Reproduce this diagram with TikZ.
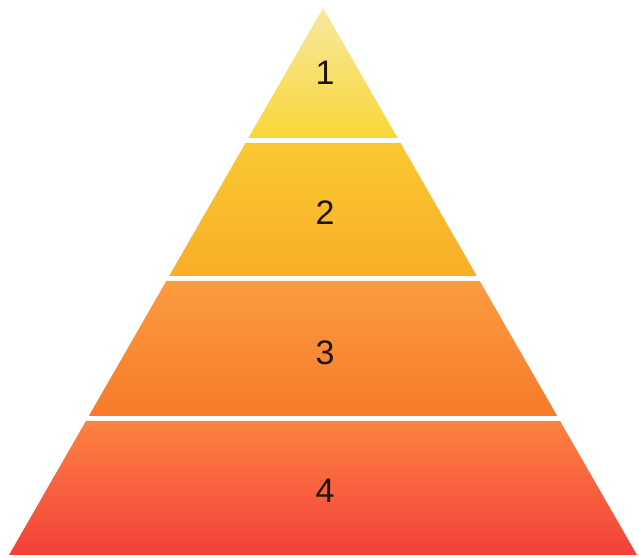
\documentclass[tikz,border=0pt]{standalone}
\usepackage{fontspec}
\setmainfont{Liberation Sans}
\definecolor{layAtop}{HTML}{F7E9A0}
\definecolor{layAbot}{HTML}{F9D636}
\definecolor{layBtop}{HTML}{FAC832}
\definecolor{layBbot}{HTML}{F8AE27}
\definecolor{layCtop}{HTML}{FB9C40}
\definecolor{layCbot}{HTML}{F77A2B}
\definecolor{layDtop}{HTML}{FD8241}
\definecolor{layDbot}{HTML}{F3403A}
\definecolor{lblcol}{HTML}{1E1408}
\begin{document}
\begin{tikzpicture}[x=0.03cm, y=0.03cm, font=\fontsize{29}{31}\selectfont]
	\useasboundingbox (0,0) rectangle (639,558);
	\pgfmathsetmacro{\slope}{314/547}
	\pgfmathsetmacro{\ytop}{550}
	\coordinate (apex) at (323,\ytop);
	
	% layers, top to bottom
	\foreach \ya/\yb/\ctop/\cbot/\ylbl/\lbl in {550/420/layAtop/layAbot/485.5/1, 415/282/layBtop/layBbot/345.5/2, 277/142/layCtop/layCbot/205.5/3, 137/3/layDtop/layDbot/67.5/4} {
		\pgfmathsetmacro{\wa}{\slope*(\ytop-\ya)}
		\pgfmathsetmacro{\wb}{\slope*(\ytop-\yb)}
		\shade[top color=\ctop, bottom color=\cbot] (323-\wa,\ya) -- (323+\wa,\ya) -- (323+\wb,\yb) -- (323-\wb,\yb) -- cycle;
		\node[text=lblcol] (lbl\lbl) at (325,\ylbl) {\lbl};
	}
\end{tikzpicture}
\end{document}
